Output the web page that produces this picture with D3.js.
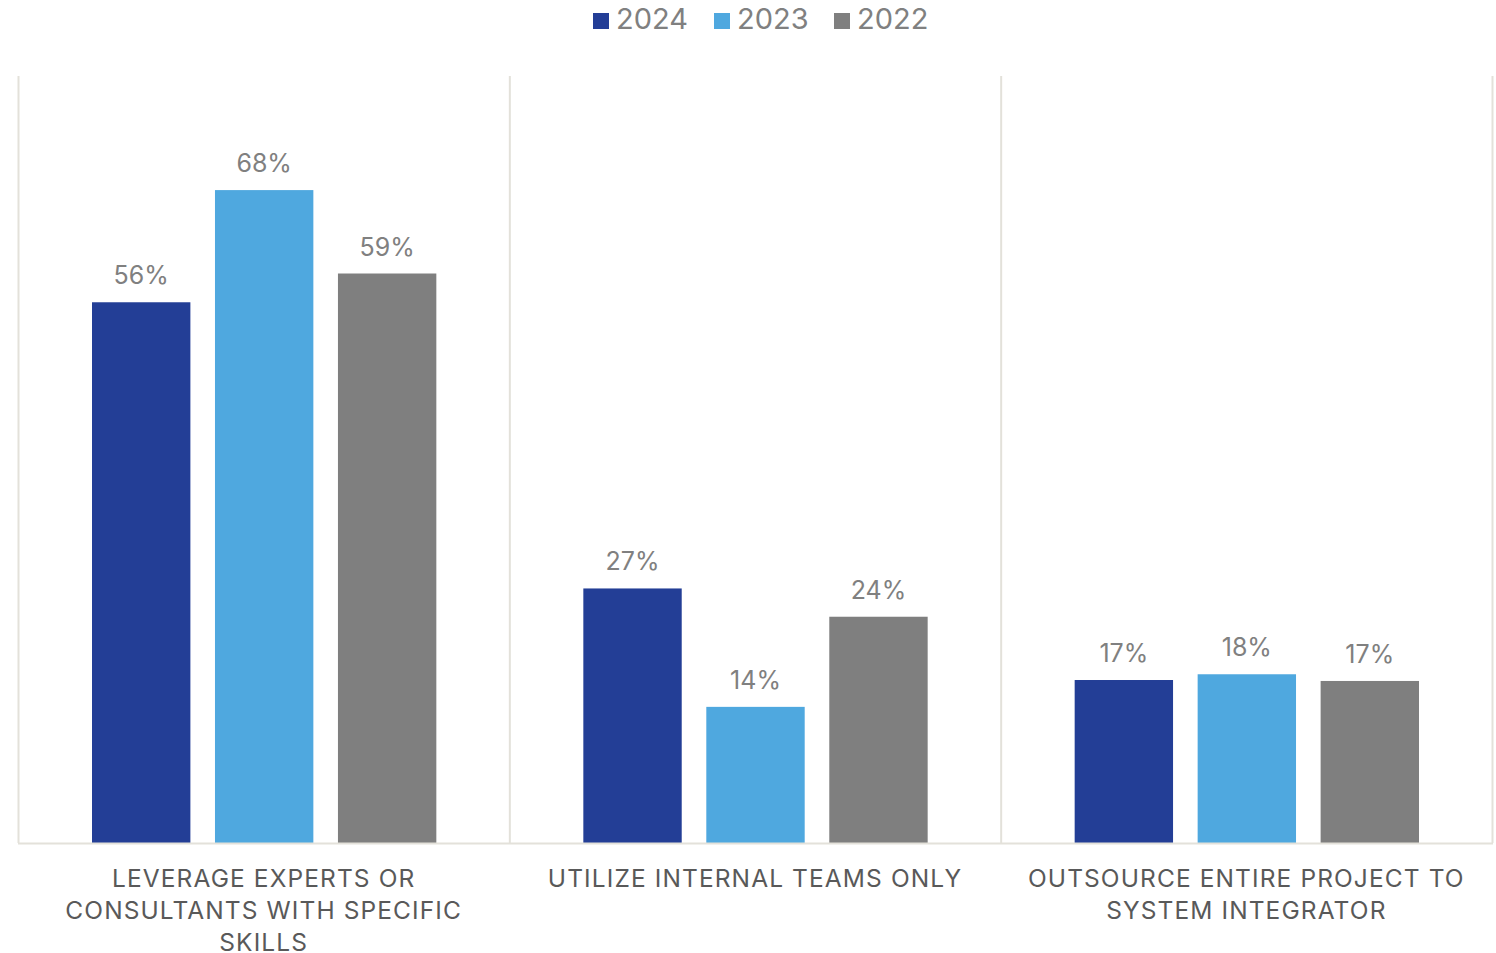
<!DOCTYPE html>
<html>
<head>
<meta charset="utf-8">
<script src="https://cdn.jsdelivr.net/npm/d3@7"></script>
<style>
  body { margin: 0; background: #fff; }
  text { font-family: Inter, "Noto Sans", sans-serif; }
</style>
</head>
<body>
<div id="chart"></div>
<script>
// categories (x axis), one line per entry
var categories = [
  ["LEVERAGE EXPERTS OR", "CONSULTANTS WITH SPECIFIC", "SKILLS"],
  ["UTILIZE INTERNAL TEAMS ONLY"],
  ["OUTSOURCE ENTIRE PROJECT TO", "SYSTEM INTEGRATOR"]
];
var years = ["2024", "2023", "2022"];
// bar heights (labels are rounded)
var values2024 = [0.564, 0.2655, 0.170];
var values2023 = [0.681, 0.142, 0.176];
var values2022 = [0.594, 0.236, 0.169];
var colors = {"2024": "#233e96", "2023": "#4fa8df", "2022": "#7f7f7f"};

var series = {"2024": values2024, "2023": values2023, "2022": values2022};
var rows = [];
categories.forEach(function(c, i){
  years.forEach(function(y){
    rows.push({cat: i, year: y, value: series[y][i]});
  });
});

var W = 1496, H = 953;
var m = {left: 18, right: 1492, top: 76, bottom: 843};

var svg = d3.select("#chart").append("svg").attr("width", W).attr("height", H);

var x0 = d3.scaleBand().domain(d3.range(categories.length)).range([m.left, m.right]).padding(0);
var x1 = d3.scaleBand().domain(years).range([74, x0.bandwidth() - 73]).paddingInner(0.2).paddingOuter(0);
var y = d3.scaleLinear().domain([0, 0.8]).range([m.bottom, m.top]);

// separators
var seps = d3.range(categories.length + 1).map(function(i){ return i < categories.length ? x0(i) : m.right; });
svg.selectAll(".sep").data(seps).enter().append("line")
  .attr("x1", d => d + 0.5).attr("x2", d => d + 0.5)
  .attr("y1", m.top).attr("y2", m.bottom)
  .attr("stroke", "#e3e1da").attr("stroke-width", 2);

// bars
svg.selectAll(".bar").data(rows).enter().append("rect")
  .attr("x", d => x0(d.cat) + x1(d.year))
  .attr("y", d => y(d.value))
  .attr("width", x1.bandwidth())
  .attr("height", d => y(0) - y(d.value))
  .attr("fill", d => colors[d.year]);

// baseline
svg.append("line").attr("x1", m.left).attr("x2", m.right + 1)
  .attr("y1", m.bottom + 0.5).attr("y2", m.bottom + 0.5)
  .attr("stroke", "#e3e1da").attr("stroke-width", 2);

// data labels
svg.selectAll(".lbl").data(rows).enter().append("text")
  .attr("x", d => x0(d.cat) + x1(d.year) + x1.bandwidth() / 2)
  .attr("y", d => y(d.value) - 18)
  .attr("text-anchor", "middle")
  .attr("font-size", 25)
  .attr("fill", "#808080")
  .text(d => d3.format(".0%")(d.value));

// category labels
var cl = svg.selectAll(".cat").data(categories).enter().append("text")
  .attr("text-anchor", "middle")
  .attr("font-size", 24.5)
  .attr("letter-spacing", 1.1)
  .attr("fill", "#595959");
cl.each(function(lines, i){
  var t = d3.select(this);
  lines.forEach(function(s, j){
    t.append("tspan").attr("x", x0(i) + x0.bandwidth() / 2).attr("y", 887 + j * 32).text(s);
  });
});

// legend
var legX = [593, 714, 834];
var lg = svg.selectAll(".leg").data(years).enter().append("g")
  .attr("transform", (d, i) => "translate(" + legX[i] + ",13)");
lg.append("rect").attr("width", 16).attr("height", 16).attr("fill", d => colors[d]);
lg.append("text").attr("x", 23).attr("y", 16).attr("font-size", 29)
  .attr("fill", "#808080").text(d => d);
</script>
</body>
</html>
